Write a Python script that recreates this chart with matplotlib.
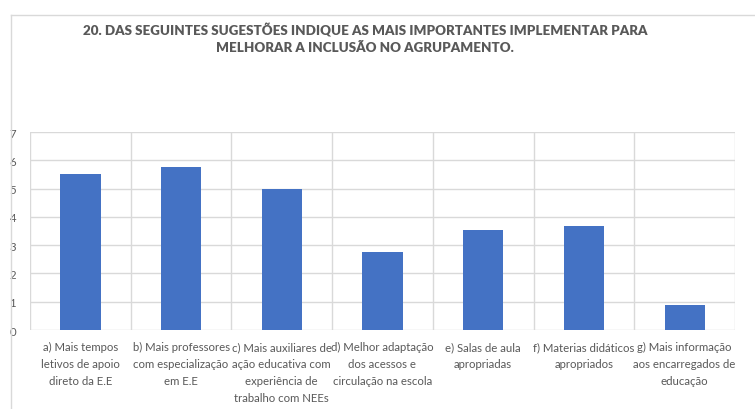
import matplotlib.pyplot as plt
from matplotlib.lines import Line2D
import numpy as np

# ── data ──────────────────────────────────────────────────────────────────────

TITLE = ("20. DAS SEGUINTES SUGESTÕES INDIQUE AS MAIS IMPORTANTES IMPLEMENTAR PARA\n"
         "MELHORAR A INCLUSÃO NO AGRUPAMENTO.")

labels = [
    "a) Mais tempos\nletivos de apoio\ndireto da E.E",
    "b) Mais professores\ncom especialização\nem E.E",
    "c) Mais auxiliares de\nação educativa com\nexperiência de\ntrabalho com NEEs",
    "d) Melhor adaptação\ndos acessos e\ncirculação na escola",
    "e) Salas de aula\napropriadas",
    "f) Materias didáticos\napropriados",
    "g) Mais informação\naos encarregados de\neducação",
]
values = [5.5, 5.75, 4.97, 2.75, 3.55, 3.68, 0.9]
yticks = [0, 1, 2, 3, 4, 5, 6, 7]

# ── style ─────────────────────────────────────────────────────────────────────

BLUE = "#4472C4"
GRID = "#D9D9D9"
TEXT = "#595959"

plt.rcParams["font.family"] = ["Lato", "DejaVu Sans"]

fig = plt.figure(figsize=(7.55, 4.10), dpi=100)
ax = fig.add_axes([30 / 755, 1 - 331 / 410, 705 / 755, 198 / 410])

x = np.arange(len(values))
ax.bar(x, values, width=0.4, color=BLUE, zorder=3)

ax.set_xlim(-0.5, len(values) - 0.5)
ax.set_ylim(0, 7)
ax.set_yticks(yticks)
ax.set_xticks(x)
ax.set_xticklabels(labels, fontsize=8.2, color=TEXT, linespacing=1.65, va="top")
ax.set_xticks(np.arange(-0.5, len(values)), minor=True)
ax.tick_params(axis="y", length=0, pad=10, labelsize=8.2, labelcolor=TEXT)
ax.tick_params(axis="x", which="both", length=0, pad=8)

ax.grid(axis="y", which="major", color=GRID, linewidth=1, zorder=0)
ax.grid(axis="x", which="minor", color=GRID, linewidth=1, zorder=0)
for s in ax.spines.values():
    s.set_visible(False)

fig.text(365 / 755, 1 - 39 / 410, TITLE, ha="center", va="center",
         fontsize=9.6, fontweight="heavy", color=TEXT, linespacing=1.45)

# chart frame (top and left edges)
fig.add_artist(Line2D([11 / 755, 1], [1 - 16 / 410] * 2,
                      transform=fig.transFigure, color=GRID, linewidth=1))
fig.add_artist(Line2D([11 / 755] * 2, [0, 1 - 16 / 410],
                      transform=fig.transFigure, color=GRID, linewidth=1))

plt.savefig("out.png", dpi=100)
